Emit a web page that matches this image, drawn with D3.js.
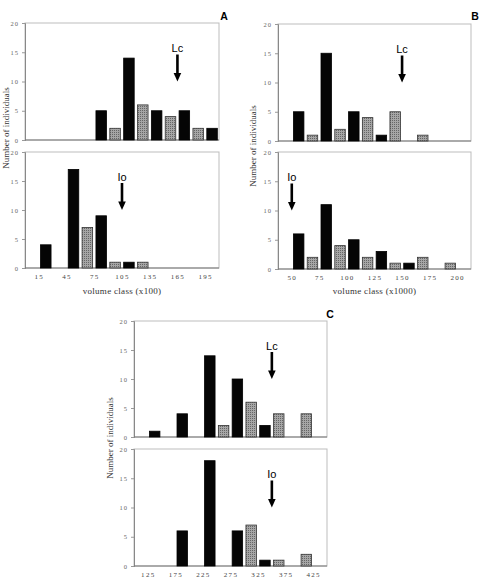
<!DOCTYPE html>
<html>
<head>
<meta charset="utf-8">
<script src="https://cdn.jsdelivr.net/npm/d3@7"></script>
<style>
  html, body { margin: 0; padding: 0; background: #fff; }
  svg { display: block; }
</style>
</head>
<body>
<script>
// ---------------- DATA ----------------
// class lower bounds (one bar per class)
const aClasses = [0, 15, 30, 45, 60, 75, 90, 105, 120, 135, 150, 165, 180, 195];
const bClasses = [37.5, 50, 62.5, 75, 87.5, 100, 112.5, 125, 137.5, 150, 162.5, 175, 187.5, 200];
const cClasses = [100, 125, 150, 175, 200, 225, 250, 275, 300, 325, 350, 375, 400, 425];
const aWidth = 15, bWidth = 12.5, cWidth = 25;

// Number of individuals per class
const aTop    = [0, 0, 0, 0, 0, 5, 2, 14, 6, 5, 4, 5, 2, 2];
const aBottom = [0, 4, 0, 17, 7, 9, 1, 1, 1, 0, 0, 0, 0, 0];
const bTop    = [0, 5, 1, 15, 2, 5, 4, 1, 5, 0, 1, 0, 0, 0];
const bBottom = [0, 6, 2, 11, 4, 5, 2, 3, 1, 1, 2, 0, 1, 0];
const cTop    = [0, 1, 0, 4, 0, 14, 2, 10, 6, 2, 4, 0, 4, 0];
const cBottom = [0, 0, 0, 6, 0, 18, 0, 6, 7, 1, 1, 0, 2, 0];

// tick labels
const aTicks = [15, 45, 75, 105, 135, 165, 195];
const bTicks = [50, 75, 100, 125, 150, 175, 200];
const cTicks = [125, 175, 225, 275, 325, 375, 425];
const yTicks = [0, 5, 10, 15, 20];

// arrows (position on volume axis, label)
const aArrows = [{ panel: "top", at: 165, label: "Lc" }, { panel: "bottom", at: 105, label: "Io" }];
const bArrows = [{ panel: "top", at: 150, label: "Lc" }, { panel: "bottom", at: 50, label: "Io" }];
const cArrows = [{ panel: "top", at: 350, label: "Lc" }, { panel: "bottom", at: 350, label: "Io" }];
const arrowTipValue = 10;

// ---------------- DRAW ----------------
const W = 479, H = 586;
const svg = d3.select("body").append("svg").attr("width", W).attr("height", H);

const defs = svg.append("defs");
const pat = defs.append("pattern").attr("id", "stipple")
  .attr("patternUnits", "userSpaceOnUse").attr("width", 2).attr("height", 2);
pat.append("rect").attr("width", 2).attr("height", 2).attr("fill", "#a6a6a6");
pat.append("rect").attr("width", 1).attr("height", 1).attr("fill", "#666");

const tickFont = "Liberation Serif";

function drawFigure(cfg) {
  const x = d3.scaleLinear().domain(cfg.domain).range([cfg.left, cfg.right]);
  const panels = [
    { key: "top", values: cfg.top, y0: cfg.topY0, y1: cfg.topY1 },
    { key: "bottom", values: cfg.bottom, y0: cfg.botY0, y1: cfg.botY1 }
  ];
  panels.forEach(p => {
    const y = d3.scaleLinear().domain([0, 20]).range([p.y1, p.y0]);
    const g = svg.append("g");
    // frame
    g.append("rect").attr("x", cfg.left).attr("y", p.y0)
      .attr("width", cfg.right - cfg.left).attr("height", p.y1 - p.y0)
      .attr("fill", "none").attr("stroke", "#bdbdbd").attr("stroke-width", 1);
    // y axis
    const yAxis = d3.axisLeft(y).tickValues(yTicks).tickSize(3).tickPadding(3);
    const ya = g.append("g").attr("transform", `translate(${cfg.left},0)`).call(yAxis);
    ya.select(".domain").attr("stroke", "#888");
    ya.selectAll(".tick line").attr("stroke", "#999");
    ya.selectAll(".tick text").attr("font-family", tickFont).attr("font-size", 6.5)
      .attr("fill", "#666").attr("letter-spacing", 1);
    // baseline
    g.append("line").attr("x1", cfg.left).attr("x2", cfg.right)
      .attr("y1", y(0)).attr("y2", y(0)).attr("stroke", "#777");
    // bars
    const slot = x(cfg.classes[0] + cfg.width) - x(cfg.classes[0]);
    const pad = slot * 0.12;
    g.selectAll("rect.bar").data(p.values.map((v, i) => ({ v, i, c: cfg.classes[i] })).filter(d => d.v > 0))
      .enter().append("rect").attr("class", "bar")
      .attr("x", d => x(d.c) + pad)
      .attr("width", d => x(d.c + cfg.width) - x(d.c) - 2 * pad)
      .attr("y", d => y(d.v))
      .attr("height", d => y(0) - y(d.v))
      .attr("fill", d => d.i % 2 === 1 ? "#050505" : "url(#stipple)")
      .attr("stroke", d => d.i % 2 === 1 ? "#000" : "#333")
      .attr("stroke-width", 0.8);
    // arrows
    cfg.arrows.filter(a => a.panel === p.key).forEach(a => {
      const ax = x(a.at), tip = y(arrowTipValue);
      const ag = g.append("g");
      ag.append("rect").attr("x", ax - 1.3).attr("y", tip - 27).attr("width", 2.6).attr("height", 20)
        .attr("fill", "#000");
      ag.append("path").attr("d", `M${ax - 3.8},${tip - 8.5} L${ax + 3.8},${tip - 8.5} L${ax},${tip} Z`)
        .attr("fill", "#000");
      ag.append("text").attr("x", ax).attr("y", tip - 29.5).attr("text-anchor", "middle")
        .attr("font-family", "Liberation Sans").attr("font-size", 11).attr("fill", "#000")
        .text(a.label);
    });
    // x tick labels on bottom panel
    if (p.key === "bottom") {
      const xAxis = d3.axisBottom(x).tickValues(cfg.ticks).tickSize(0).tickPadding(6);
      const xa = g.append("g").attr("transform", `translate(0,${y(0)})`).call(xAxis);
      xa.select(".domain").remove();
      xa.selectAll(".tick text").attr("font-family", tickFont).attr("font-size", 7)
        .attr("fill", "#444").attr("letter-spacing", 1.3);
    }
  });
  // panel letter
  svg.append("text").attr("x", cfg.letterX).attr("y", cfg.letterY).attr("text-anchor", "middle")
    .attr("font-family", "Liberation Sans").attr("font-weight", "bold").attr("font-size", 10.5)
    .text(cfg.letter);
  // y title
  svg.append("text").attr("transform", `translate(${cfg.yTitleX},${cfg.yTitleY}) rotate(-90)`)
    .attr("text-anchor", "middle").attr("font-family", "Liberation Serif").attr("font-size", 9)
    .attr("fill", "#333").text("Number of individuals");
  // x title
  if (cfg.xTitle) {
    svg.append("text").attr("x", (cfg.left + cfg.right) / 2).attr("y", cfg.xTitleY)
      .attr("text-anchor", "middle").attr("font-family", "Liberation Serif").attr("font-size", 9)
      .attr("fill", "#333").attr("letter-spacing", 0.3).text(cfg.xTitle);
  }
}

drawFigure({
  classes: aClasses, width: aWidth, domain: [0, 210], top: aTop, bottom: aBottom,
  ticks: aTicks, arrows: aArrows, left: 25, right: 219,
  topY0: 23, topY1: 140, botY0: 152, botY1: 268,
  letter: "A", letterX: 224, letterY: 20, yTitleX: 8.5, yTitleY: 128,
  xTitle: "volume class (x100)", xTitleY: 294
});
drawFigure({
  classes: bClasses, width: bWidth, domain: [37.5, 212.5], top: bTop, bottom: bBottom,
  ticks: bTicks, arrows: bArrows, left: 278, right: 471,
  topY0: 24, topY1: 141, botY0: 152, botY1: 269,
  letter: "B", letterX: 475, letterY: 20, yTitleX: 256, yTitleY: 146,
  xTitle: "volume class (x1000)", xTitleY: 294
});
drawFigure({
  classes: cClasses, width: cWidth, domain: [100, 450], top: cTop, bottom: cBottom,
  ticks: cTicks, arrows: cArrows, left: 134, right: 327,
  topY0: 321, topY1: 437, botY0: 449, botY1: 566,
  letter: "C", letterX: 330, letterY: 318, yTitleX: 113, yTitleY: 438,
  xTitle: null
});
</script>
</body>
</html>
